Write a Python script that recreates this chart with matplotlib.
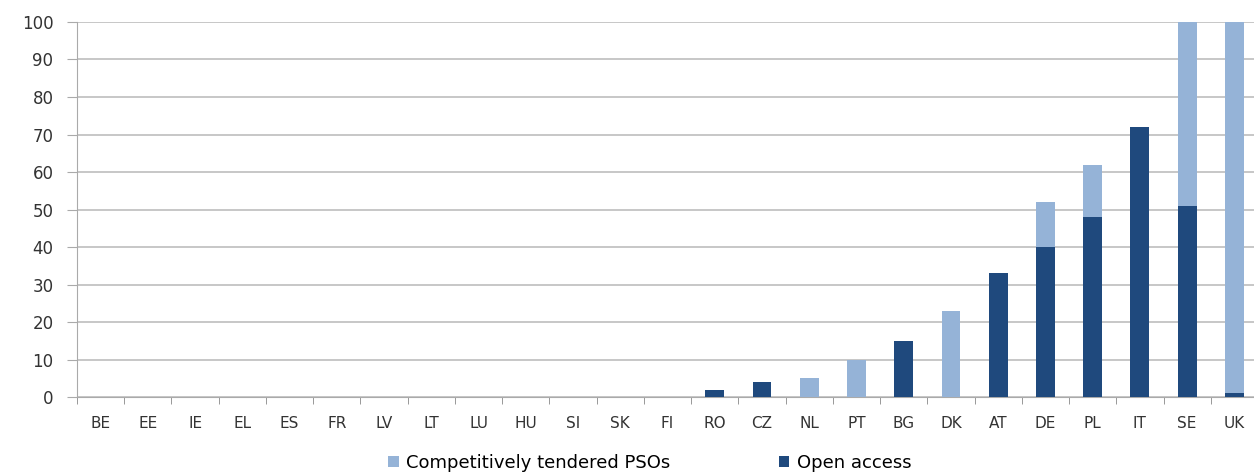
import matplotlib
matplotlib.use("Agg")
from matplotlib import pyplot as plt
import numpy as np

countries = ["BE", "EE", "IE", "EL", "ES", "FR", "LV", "LT", "LU", "HU", "SI", "SK", "FI",
             "RO", "CZ", "NL", "PT", "BG", "DK", "AT", "DE", "PL", "IT", "SE", "UK"]
open_access = [0, 0, 0, 0, 0, 0, 0, 0, 0, 0, 0, 0, 0,
               2, 4, 0, 0, 15, 0, 33, 40, 48, 72, 51, 1]
tendered = [0, 0, 0, 0, 0, 0, 0, 0, 0, 0, 0, 0, 0,
            0, 0, 5, 10, 0, 23, 0, 12, 14, 0, 49, 99]

dark = "#1F497D"
light = "#95B3D7"
grid = "#BEBEBE"

plt.rcParams['font.family'] = ['DejaVu Sans']
fig = plt.figure(figsize=(12.54, 4.74), dpi=100)
# right edge of the plot is cut off in the reference, so the axes run past the figure
ax = fig.add_axes([0.0614, 0.1624, 0.9418, 0.7912])

x = np.arange(len(countries))
ax.bar(x, tendered, 0.4, bottom=open_access, color=light, label="Competitively tendered PSOs", zorder=3)
ax.bar(x, open_access, 0.4, color=dark, label="Open access", zorder=3)

ax.set_xlim(-0.5, len(countries) - 0.5)
ax.set_ylim(0, 100)
ax.set_yticks(range(0, 101, 10))
ax.yaxis.grid(True, color=grid, linewidth=1.2, zorder=0)
ax.set_xticks(x)
ax.set_xticklabels(countries)
ax.set_xticks(np.arange(-0.5, len(countries), 1), minor=True)
ax.tick_params(axis='x', which='major', length=0, pad=14, labelsize=11, colors="#333333")
ax.tick_params(axis='x', which='minor', length=5, color="#888888", direction='out')
ax.tick_params(axis='y', length=7, color="#AAAAAA", labelsize=12, colors="#333333", pad=10)
for s in ['top', 'right']:
    ax.spines[s].set_visible(False)
for s in ['left', 'bottom']:
    ax.spines[s].set_color("#AAAAAA")

h, l = ax.get_legend_handles_labels()
fig.legend(h, l, loc='lower center', bbox_to_anchor=(0.518, -0.03), ncol=2, frameon=False,
           fontsize=13, handlelength=0.6, handleheight=0.6, handletextpad=0.4, columnspacing=6)

fig.savefig("out.png", dpi=100)
